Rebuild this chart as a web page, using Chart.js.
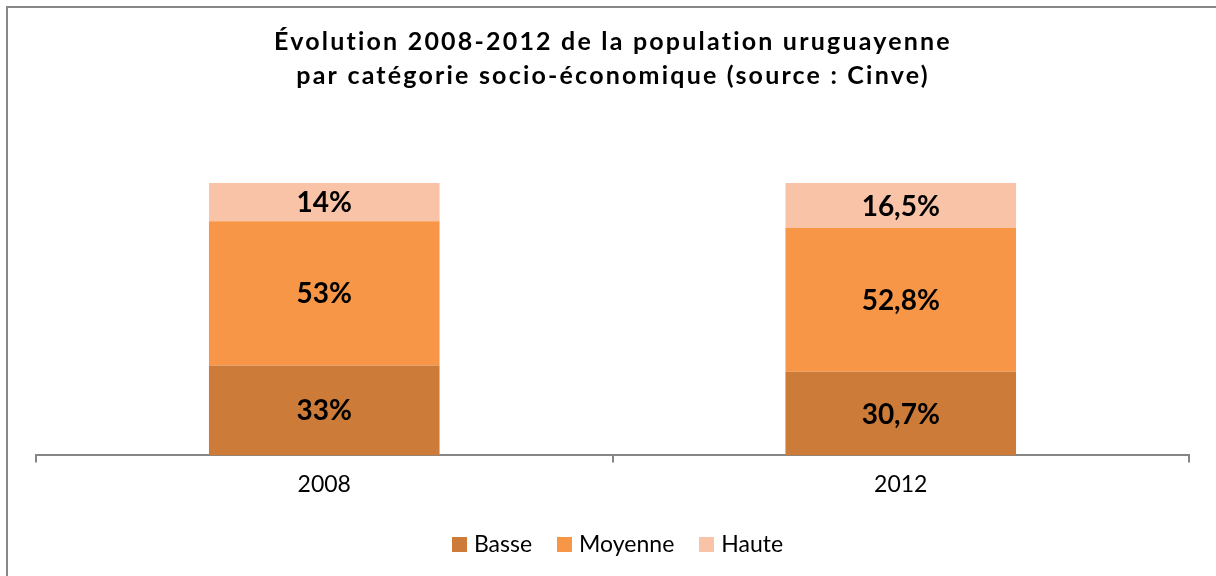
<!DOCTYPE html>
<html>
<head>
<meta charset="utf-8">
<script src="https://cdn.jsdelivr.net/npm/chart.js@4"></script>
<style>
html,body{margin:0;padding:0;background:#fff;}
#wrap{width:1216px;height:576px;position:relative;}
</style>
</head>
<body>
<div id="wrap"><canvas id="c" width="1216" height="576"></canvas></div>
<script>
const categories = ["2008", "2012"];
const basse = [33, 30.7];
const moyenne = [53, 52.8];
const haute = [14, 16.5];
const seriesNames = ["Basse", "Moyenne", "Haute"];
const titleLines = ["Évolution 2008-2012 de la population uruguayenne", "par catégorie socio-économique (source : Cinve)"];

const colors = ["#CC7B39", "#F79646", "#F9C3A8"];
const FONT = "Lato, 'Open Sans', sans-serif";

const framePlugin = {
  id: 'frame',
  beforeDraw(chart) {
    const ctx = chart.ctx;
    ctx.save();
    ctx.fillStyle = '#fff';
    ctx.fillRect(0, 0, chart.width, chart.height);
    ctx.strokeStyle = '#888888';
    ctx.lineWidth = 2;
    ctx.strokeRect(7, 7, 1400, 800);
    ctx.fillStyle = '#000';
    ctx.textAlign = 'center';
    ctx.textBaseline = 'alphabetic';
    ctx.font = "bold 25px " + FONT;
    ctx.letterSpacing = '2.2px';
    ctx.fillText(titleLines[0], 613, 50);
    ctx.fillText(titleLines[1], 613, 84);
    ctx.restore();
  }
};

const labelPlugin = {
  id: 'seglabels',
  afterDatasetsDraw(chart) {
    const ctx = chart.ctx;
    ctx.save();
    ctx.fillStyle = '#000';
    ctx.textAlign = 'center';
    ctx.textBaseline = 'middle';
    ctx.font = "bold 28px " + FONT;
    chart.data.datasets.forEach((ds, di) => {
      const meta = chart.getDatasetMeta(di);
      meta.data.forEach((bar, i) => {
        const v = ds.data[i];
        const y = (bar.y + bar.base) / 2;
        ctx.fillText(String(v).replace('.', ',') + '%', bar.x, y + 1);
      });
    });
    ctx.restore();
  }
};

const legendPlugin = {
  id: 'customLegend',
  afterDraw(chart) {
    const ctx = chart.ctx;
    ctx.save();
    ctx.font = "23px " + FONT;
    const box = 15, gapText = 7, gapItem = 25;
    const items = chart.data.datasets.map(ds => ({ text: ds.label, color: ds.backgroundColor, w: ctx.measureText(ds.label).width }));
    let total = 0;
    items.forEach((it, i) => { total += box + gapText + it.w + (i < items.length - 1 ? gapItem : 0); });
    let x = 617.5 - total / 2;
    const cy = 545;
    ctx.textBaseline = 'middle';
    ctx.textAlign = 'left';
    items.forEach(it => {
      ctx.fillStyle = it.color;
      ctx.fillRect(Math.round(x), cy - 8, box, box);
      ctx.fillStyle = '#000';
      ctx.fillText(it.text, x + box + gapText, cy);
      x += box + gapText + it.w + gapItem;
    });
    ctx.restore();
  }
};

new Chart(document.getElementById('c'), {
  type: 'bar',
  data: {
    labels: categories,
    datasets: [
      { label: seriesNames[0], data: basse, backgroundColor: colors[0] },
      { label: seriesNames[1], data: moyenne, backgroundColor: colors[1] },
      { label: seriesNames[2], data: haute, backgroundColor: colors[2] }
    ]
  },
  options: {
    responsive: false,
    animation: false,
    devicePixelRatio: 1,
    layout: { padding: { left: 36, right: 27, top: 183, bottom: 70 } },
    datasets: { bar: { categoryPercentage: 1, barPercentage: 0.4 } },
    scales: {
      x: {
        stacked: true,
        grid: { drawOnChartArea: false, drawTicks: true, tickLength: 7, color: '#868686', lineWidth: 2, offset: true },
        border: { display: true, color: '#868686', width: 2 },
        ticks: { color: '#000', font: { family: FONT, size: 23 }, padding: 8 }
      },
      y: { stacked: true, display: false, min: 0, max: 100 }
    },
    plugins: {
      legend: { display: false },
      tooltip: { enabled: false },
      title: { display: false }
    }
  },
  plugins: [framePlugin, labelPlugin, legendPlugin]
});
</script>
</body>
</html>
